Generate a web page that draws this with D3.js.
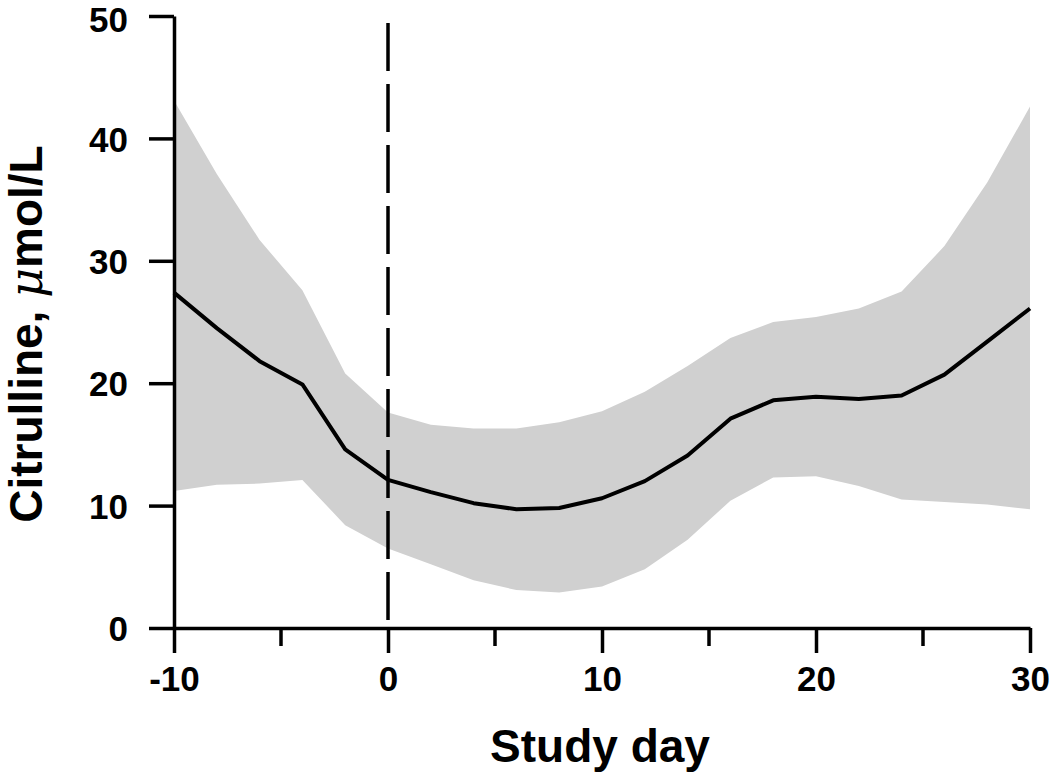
<!DOCTYPE html>
<html>
<head>
<meta charset="utf-8">
<script src="https://cdn.jsdelivr.net/npm/d3@7"></script>
<style>
  html, body { margin: 0; padding: 0; background: #fff; }
  svg { display: block; }
  text { font-family: "Liberation Sans", Arial, Helvetica, sans-serif; font-weight: bold; fill: #000; }
</style>
</head>
<body>
<svg id="chart" width="1050" height="783"></svg>
<script>
const days = [-10, -8, -6, -4, -2, 0, 2, 4, 6, 8, 10, 12, 14, 16, 18, 20, 22, 24, 26, 28, 30];
const meanValues = [27.4, 24.5, 21.8, 19.9, 14.6, 12.1, 11.1, 10.2, 9.7, 9.8, 10.6, 12.0, 14.1, 17.1, 18.6, 18.9, 18.7, 19.0, 20.7, 23.4, 26.1];
const upperValues = [43.1, 37.1, 31.7, 27.6, 20.8, 17.6, 16.6, 16.3, 16.3, 16.8, 17.7, 19.3, 21.4, 23.7, 25.0, 25.4, 26.1, 27.5, 31.2, 36.4, 42.6];
const lowerValues = [11.2, 11.7, 11.8, 12.1, 8.4, 6.5, 5.2, 3.9, 3.1, 2.9, 3.4, 4.8, 7.2, 10.4, 12.3, 12.4, 11.6, 10.5, 10.3, 10.1, 9.7];
const xMajorTicks = [-10, 0, 10, 20, 30];
const xMinorTicks = [-5, 5, 15, 25];
const yTicks = [0, 10, 20, 30, 40, 50];
const referenceDay = 0;
const xTitle = "Study day";
const yTitleMain = "Citrulline, ";
const yTitleUnitSymbol = "\u03BC";
const yTitleUnitRest = "mol/L";

const svg = d3.select("#chart");
const x = d3.scaleLinear().domain([-10, 30]).range([174, 1030]);
const y = d3.scaleLinear().domain([0, 50]).range([628, 16]);
const fmt = d => String(d);

const data = days.map((d, i) => ({ day: d, mean: meanValues[i], lo: lowerValues[i], hi: upperValues[i] }));

// band
svg.append("path")
  .datum(data)
  .attr("fill", "#d0d0d0")
  .attr("d", d3.area().x(d => x(d.day)).y0(d => y(d.lo)).y1(d => y(d.hi)));

// dashed reference line
svg.append("line")
  .attr("x1", x(referenceDay)).attr("x2", x(referenceDay))
  .attr("y1", 23).attr("y2", y(0))
  .attr("stroke", "#000").attr("stroke-width", 3.5)
  .attr("stroke-dasharray", "48,13");

// mean line
svg.append("path")
  .datum(data)
  .attr("fill", "none")
  .attr("stroke", "#000")
  .attr("stroke-width", 4)
  .attr("stroke-linejoin", "round")
  .attr("d", d3.line().x(d => x(d.day)).y(d => y(d.mean)));

// x axis
const xAxisG = svg.append("g").attr("transform", `translate(0,${y(0)})`);
xAxisG.call(d3.axisBottom(x).tickValues(xMajorTicks).tickSize(25).tickSizeOuter(0).tickFormat(fmt));
xAxisG.selectAll(".minor").data(xMinorTicks).enter().append("line")
  .attr("class", "minor")
  .attr("x1", d => x(d)).attr("x2", d => x(d))
  .attr("y1", 0).attr("y2", 18);
xAxisG.selectAll("line, path").attr("stroke", "#000").attr("stroke-width", 3.5);
xAxisG.selectAll(".tick text")
  .attr("font-size", 35).style("font-size", "35px").attr("dy", 0).attr("y", 63);

// y axis
const yAxisG = svg.append("g").attr("transform", `translate(${x(-10)},0)`);
yAxisG.call(d3.axisLeft(y).tickValues(yTicks).tickSize(25).tickSizeOuter(0).tickPadding(21).tickFormat(fmt));
yAxisG.selectAll("line, path").attr("stroke", "#000").attr("stroke-width", 3.5);
yAxisG.selectAll(".tick text")
  .attr("font-size", 35).style("font-size", "35px").attr("dy", "0.36em")
  .attr("y", d => d === 50 ? 3 : 0);
svg.selectAll(".domain").attr("fill", "none");

// x title
svg.append("text")
  .attr("x", 600).attr("y", 762)
  .attr("text-anchor", "middle")
  .style("font-size", "46px")
  .text(xTitle);

// y title
const yt = svg.append("text")
  .attr("transform", "translate(42,334) rotate(-90)")
  .attr("text-anchor", "middle")
  .style("font-size", "46px");
yt.append("tspan").text(yTitleMain);
yt.append("tspan").style("font-style", "italic").style("font-weight", "normal")
  .style("font-family", "'DejaVu Serif', serif").text(yTitleUnitSymbol);
yt.append("tspan").text(yTitleUnitRest);
</script>
</body>
</html>
